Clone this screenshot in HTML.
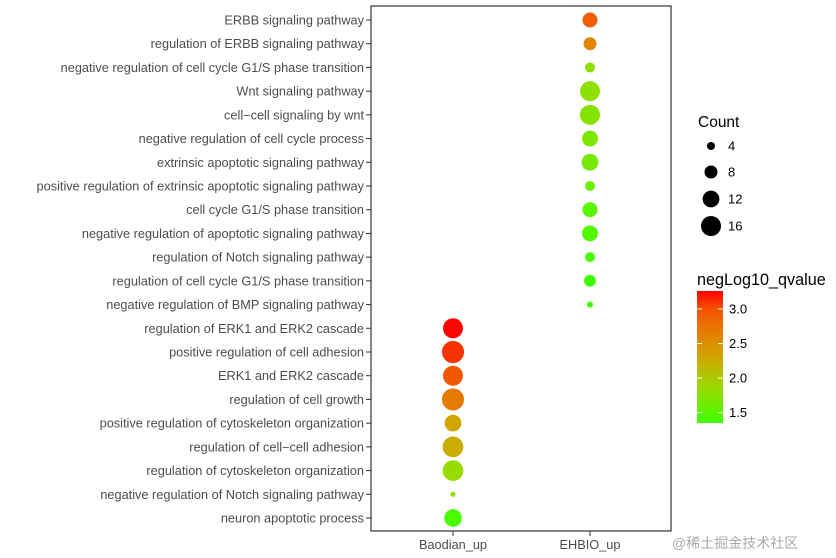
<!DOCTYPE html>
<html><head><meta charset="utf-8"><style>
html,body{margin:0;padding:0;background:#fff;}
svg{display:block;font-family:"Liberation Sans",Arial,sans-serif;}
</style></head><body>
<svg id="chart" width="836" height="558" viewBox="0 0 836 558" xmlns="http://www.w3.org/2000/svg">
<defs>
<linearGradient id="cgrad" x1="0" y1="1" x2="0" y2="0">
<stop offset="0" stop-color="rgb(64,255,0)"/>
<stop offset="0.263" stop-color="rgb(150,220,0)"/>
<stop offset="0.5" stop-color="rgb(210,165,0)"/>
<stop offset="0.71" stop-color="rgb(230,120,0)"/>
<stop offset="0.868" stop-color="rgb(245,80,0)"/>
<stop offset="1" stop-color="rgb(255,0,0)"/>
</linearGradient>
</defs>
<g id="plot"></g>
<g id="legend"></g>
<text x="672" y="548" font-size="14" fill="#aaa" font-family="'Liberation Sans','Noto Sans CJK SC',sans-serif">@稀土掘金技术社区</text>
</svg>
<script>
const terms = ["ERBB signaling pathway","regulation of ERBB signaling pathway","negative regulation of cell cycle G1/S phase transition","Wnt signaling pathway","cell\u2212cell signaling by wnt","negative regulation of cell cycle process","extrinsic apoptotic signaling pathway","positive regulation of extrinsic apoptotic signaling pathway","cell cycle G1/S phase transition","negative regulation of apoptotic signaling pathway","regulation of Notch signaling pathway","regulation of cell cycle G1/S phase transition","negative regulation of BMP signaling pathway","regulation of ERK1 and ERK2 cascade","positive regulation of cell adhesion","ERK1 and ERK2 cascade","regulation of cell growth","positive regulation of cytoskeleton organization","regulation of cell\u2212cell adhesion","regulation of cytoskeleton organization","negative regulation of Notch signaling pathway","neuron apoptotic process"];
const groups = ["Baodian_up","EHBIO_up"];
const pointGroup = [1,1,1,1,1,1,1,1,1,1,1,1,1,0,0,0,0,0,0,0,0,0];
const counts = [10,8,5.4,16,16,11,12,5.4,10,11,5.4,7,2.8,16,19,16,19,12,17,17,2.3,13];
const qvalues = [2.9,2.6,1.8,1.8,1.75,1.7,1.65,1.6,1.5,1.45,1.4,1.35,1.35,3.25,3.1,2.95,2.7,2.3,2.25,1.85,1.8,1.4];
const sizeBreaks = [4,8,12,16];
const colorBreaks = [1.5,2.0,2.5,3.0];
const colorLabels = ["1.5","2.0","2.5","3.0"];

const NS="http://www.w3.org/2000/svg";
const P={l:371,r:671,t:6,b:531};
const xPos=i=>[453,590][i];
const yPos=i=>20+i*(518-20)/21;
const rad=c=>3*Math.sqrt(c)-2;
const cMin=1.35,cMax=3.26;
const stops=[[0,[64,255,0]],[0.263,[150,220,0]],[0.5,[210,165,0]],[0.71,[230,120,0]],[0.868,[245,80,0]],[1,[255,0,0]]];
function col(v){let t=Math.max(0,Math.min(1,(v-cMin)/(cMax-cMin)));
for(let i=1;i<stops.length;i++){if(t<=stops[i][0]){const a=stops[i-1],b=stops[i];const f=(t-a[0])/(b[0]-a[0]);
return "rgb("+a[1].map((x,k)=>Math.round(x+(b[1][k]-x)*f)).join(",")+")";}}return "rgb(255,0,0)";}
function mk(tag,attrs,parent,txt){const e=document.createElementNS(NS,tag);for(const k in attrs)e.setAttribute(k,attrs[k]);if(txt!==undefined)e.textContent=txt;parent.appendChild(e);return e;}
const plot=document.getElementById('plot');
const frame=mk('rect',{x:P.l,y:P.t,width:P.r-P.l,height:P.b-P.t,fill:'none',stroke:'#333','stroke-width':1.2},plot);


terms.forEach((t,i)=>{const y=yPos(i);
const tk=mk('line',{x1:P.l-5,x2:P.l,y1:y,y2:y,stroke:'#333','stroke-width':1},plot);


const tx=mk('text',{x:P.l-7,y:y+4.5,'text-anchor':'end','font-size':12.75,fill:'#4d4d4d'},plot,t);

});
groups.forEach((g,i)=>{const x=xPos(i);
const tk=mk('line',{x1:x,x2:x,y1:P.b,y2:P.b+5,stroke:'#333','stroke-width':1},plot);


const tx=mk('text',{x:x,y:P.b+18,'text-anchor':'middle','font-size':12.75,fill:'#4d4d4d'},plot,g);

});
counts.forEach((c,i)=>{const d=mk('circle',{cx:xPos(pointGroup[i]),cy:yPos(i),r:rad(c),fill:col(qvalues[i])},plot);

});
const lg=document.getElementById('legend');
const st=mk('text',{x:698,y:127,'font-size':15.5,fill:'#000'},lg,'Count');


const sy=[146,172,199,226];
sizeBreaks.forEach((s,i)=>{const c=mk('circle',{cx:711,cy:sy[i],r:rad(s),fill:'#000'},lg);


const t=mk('text',{x:728,y:sy[i]+4.5,'font-size':13,fill:'#000'},lg,String(s));

});
const ct=mk('text',{x:697,y:285,'font-size':16.2,fill:'#000'},lg,'negLog10_qvalue');


const bar=mk('rect',{x:697,y:291,width:26,height:132,fill:'url(#cgrad)'},lg);


const cy=v=>423-(v-cMin)/(cMax-cMin)*132;
colorBreaks.forEach((v,i)=>{const y=cy(v);
mk('line',{x1:697,x2:702,y1:y,y2:y,stroke:'#fff','stroke-width':1},lg);
mk('line',{x1:718,x2:723,y1:y,y2:y,stroke:'#fff','stroke-width':1},lg);
const t=mk('text',{x:729,y:y+4.5,'font-size':13,fill:'#000'},lg,colorLabels[i]);

});
</script>
</body></html>
